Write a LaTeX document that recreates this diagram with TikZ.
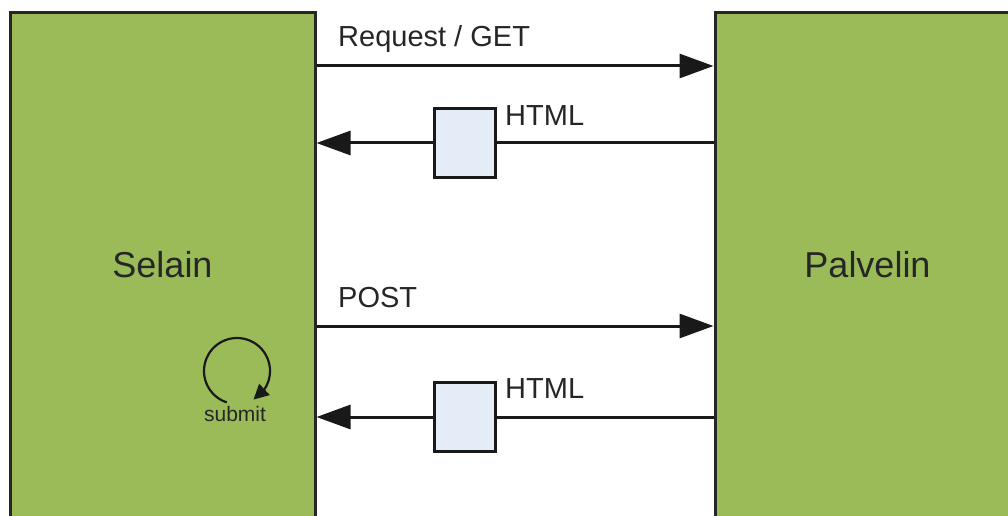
\documentclass[tikz,border=0pt]{standalone}
\usepackage{fontspec}
\setmainfont{Liberation Sans}
\usetikzlibrary{arrows.meta,bending}
\definecolor{partgreen}{HTML}{9BBB59}
\definecolor{docblue}{HTML}{E4ECF7}
\definecolor{inktext}{HTML}{262626}
\tikzset{
  party/.style={draw=black!85, line width=3pt, fill=partgreen, minimum width=305pt,
    minimum height=504pt, inner sep=0pt, text=inktext, font=\fontsize{36}{40}\selectfont},
  msg/.style={draw=black!90, line width=3pt, -{Triangle[length=34pt,width=24pt]}},
  plain/.style={draw=black!90, line width=3pt},
  doc/.style={draw=black!90, line width=3pt, fill=docblue, minimum width=61pt,
    minimum height=69pt, inner sep=0pt},
  lbl/.style={anchor=base west, inner sep=0pt, text=inktext, font=\fontsize{29}{32}\selectfont},
  looparc/.style={draw=black!90, line width=2.2pt, -{Triangle[length=15pt,width=15pt,flex]}},
  small/.style={anchor=base, inner sep=0pt, text=inktext, font=\fontsize{21}{24}\selectfont}
}
\begin{document}
\begin{tikzpicture}[x=1pt,y=1pt]
  \useasboundingbox (0,0) rectangle (1008,515);
  \begin{scope}
    \clip (0,0) rectangle (1008,515);
    % the two parties
    \node[party] (selain) at (162.5,250) {Selain};
    \node[party] (palvelin) at (867.5,250) {Palvelin};
  \end{scope}

  % HTML documents sent back
  \node[doc] (doc1) at (465,372) {};
  \node[doc] (doc2) at (465,98) {};

  % message labels
  \node[lbl] (lget) at (338,468) {Request / GET};
  \node[lbl] (lhtml1) at (505,389) {HTML};
  \node[lbl] (lpost) at (338,208) {POST};
  \node[lbl] (lhtml2) at (505,117) {HTML};

  % request / response arrows
  \draw[msg] (selain.east |- 0,449) -- (palvelin.west |- 0,449);
  \draw[plain] (palvelin.west |- doc1) -- (doc1.east);
  \draw[msg] (doc1.west) -- (selain.east |- doc1);
  \draw[msg] (selain.east |- 0,189) -- (palvelin.west |- 0,189);
  \draw[plain] (palvelin.west |- doc2) -- (doc2.east);
  \draw[msg] (doc2.west) -- (selain.east |- doc2);

  % submit loop inside the browser
  \coordinate (loopc) at (237,144);
  \draw[looparc] (loopc) ++(252:33) arc[start angle=252, end angle=-60, radius=33];
  \node[small] (lsubmit) at (235,94) {submit};
\end{tikzpicture}
\end{document}
